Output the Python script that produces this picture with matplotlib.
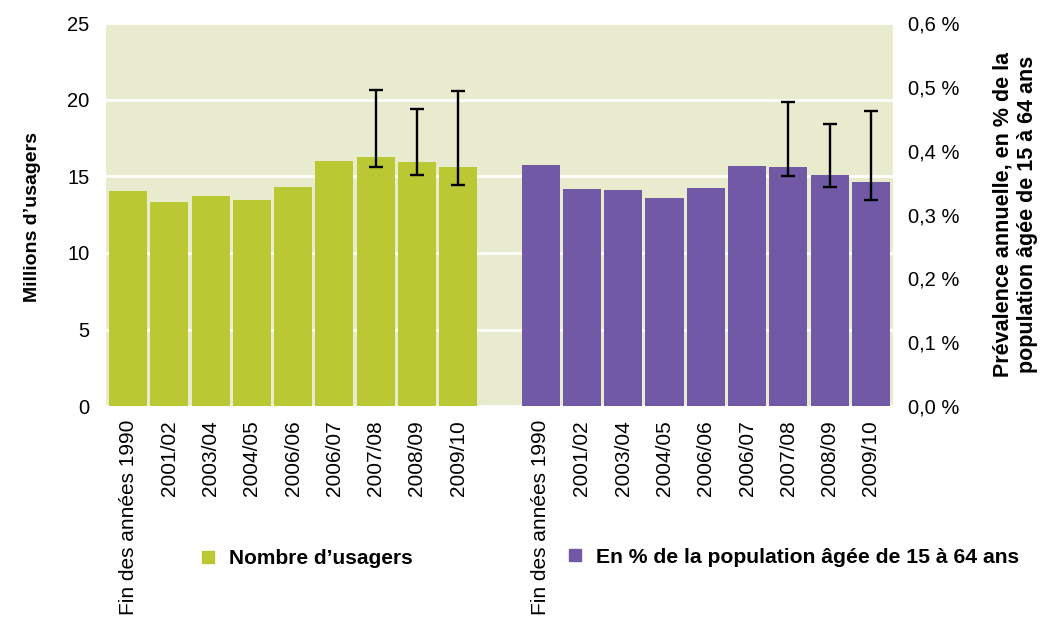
import matplotlib.pyplot as plt
from matplotlib.lines import Line2D
from matplotlib.ticker import FuncFormatter

plt.rcParams["font.family"] = ["Liberation Sans", "DejaVu Sans"]

PERIODS = ["Fin des années 1990", "2001/02", "2003/04", "2004/05", "2006/06",
           "2006/07", "2007/08", "2008/09", "2009/10"]
USERS = [14.05, 13.33, 13.72, 13.46, 14.31, 16.01, 16.27, 15.95, 15.62]   # millions
PREV = [0.378, 0.340, 0.339, 0.326, 0.342, 0.3765, 0.375, 0.362, 0.351]   # %

# error ranges (low, high) only for the last three surveys
ERR_IDX = [6, 7, 8]
USERS_LOW = [15.6, 15.1, 14.42]
USERS_HIGH = [20.65, 19.41, 20.6]
PREV_LOW = [0.360, 0.3435, 0.3237]
PREV_HIGH = [0.477, 0.442, 0.463]

GREEN = "#b9c833"
PURPLE = "#7159a5"
BG = "#e8ebcd"

fig = plt.figure(figsize=(10.4, 6.21), dpi=100)
ax = fig.add_axes([0.1019, 0.3462, 0.7567, 0.6160])
ax2 = ax.twinx()

n = len(PERIODS)
xg = list(range(n))
xp = [i + n + 1 for i in range(n)]
w = 0.925

ax.set_facecolor(BG)
ax.bar(xg, USERS, width=w, color=GREEN, zorder=2)
ug = [USERS[i] for i in ERR_IDX]
ax.errorbar([xg[i] for i in ERR_IDX], ug,
            yerr=[[v - lo for v, lo in zip(ug, USERS_LOW)],
                  [hi - v for v, hi in zip(ug, USERS_HIGH)]],
            fmt="none", ecolor="black", elinewidth=1.7, capsize=5, capthick=1.7, zorder=3)

ax2.bar(xp, PREV, width=w, color=PURPLE, zorder=2)
pg = [PREV[i] for i in ERR_IDX]
ax2.errorbar([xp[i] for i in ERR_IDX], pg,
             yerr=[[v - lo for v, lo in zip(pg, PREV_LOW)],
                   [hi - v for v, hi in zip(pg, PREV_HIGH)]],
             fmt="none", ecolor="black", elinewidth=1.7, capsize=5, capthick=1.7, zorder=3)

ax.set_xlim(-0.535, xp[-1] + 0.535)
ax.set_ylim(0, 25)
ax2.set_ylim(0, 0.6)
ax.set_yticks([0, 5, 10, 15, 20, 25])
ax2.set_yticks([0, 0.1, 0.2, 0.3, 0.4, 0.5, 0.6])
ax2.yaxis.set_major_formatter(FuncFormatter(lambda v, p: f"{v:.1f} %".replace(".", ",")))

ax.set_xticks(xg + xp)
ax.set_xticklabels(PERIODS + PERIODS, rotation=90, fontsize=15)
ax.tick_params(axis="x", length=0, pad=10)
ax.tick_params(axis="y", length=0, pad=12, labelsize=14.5)
ax2.tick_params(axis="y", length=0, pad=11, labelsize=14.5)

ax.grid(axis="y", color="white", linewidth=2)
ax.set_axisbelow(True)
for a in (ax, ax2):
    for s in a.spines.values():
        s.set_visible(False)

ax.set_ylabel("Millions d’usagers", fontsize=14, fontweight="bold")
ax.yaxis.set_label_coords(-0.083, 0.495, transform=ax.transAxes)
ax2.set_ylabel("Prévalence annuelle, en % de la\npopulation âgée de 15 à 64 ans",
               fontsize=15.5, fontweight="bold", rotation=90, va="center", ha="center",
               linespacing=1.2)
ax2.yaxis.set_label_coords(1.155, 0.50, transform=ax.transAxes)

h1 = Line2D([], [], marker="s", linestyle="none", color=GREEN, markersize=9)
h2 = Line2D([], [], marker="s", linestyle="none", color=PURPLE, markersize=9)
fig.legend(handles=[h1], labels=["Nombre d’usagers"], loc="center left",
           bbox_to_anchor=(0.192, 0.100), frameon=False, handlelength=0.8,
           handletextpad=0.6, borderpad=0, borderaxespad=0,
           prop={"size": 15, "weight": "bold"})
fig.legend(handles=[h2], labels=["En % de la population âgée de 15 à 64 ans"],
           loc="center left", bbox_to_anchor=(0.545, 0.103), frameon=False,
           handlelength=0.8, handletextpad=0.6, borderpad=0, borderaxespad=0,
           prop={"size": 15.2, "weight": "bold"})

fig.savefig("out.png", dpi=100)
